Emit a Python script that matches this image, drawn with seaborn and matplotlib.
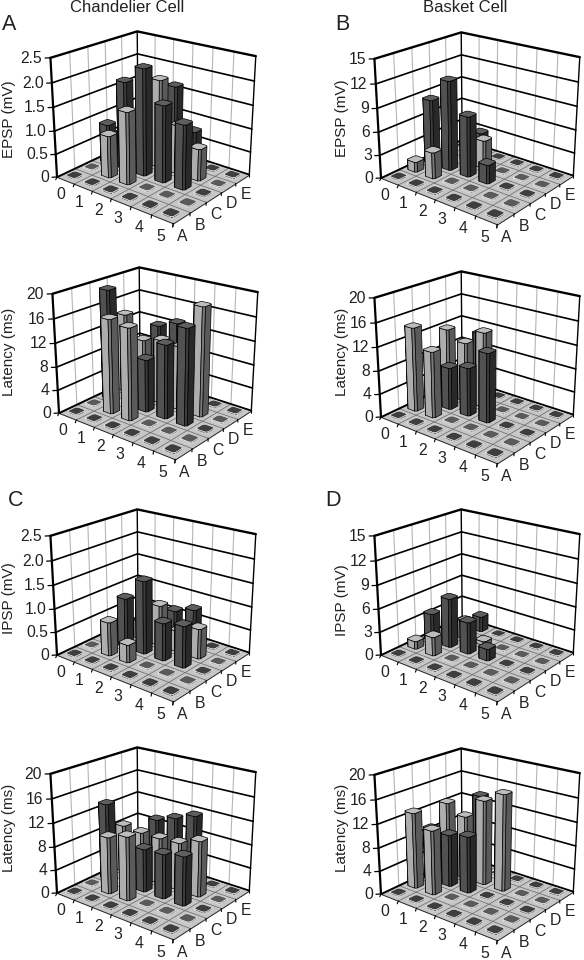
import matplotlib
matplotlib.use("Agg")
import matplotlib.pyplot as plt
import seaborn as sns
from mpl_toolkits.mplot3d import proj3d
from mpl_toolkits.mplot3d.art3d import Poly3DCollection

sns.set_theme(style="white")
plt.rcParams["font.family"] = ["Liberation Sans", "DejaVu Sans"]

W, H = 584, 960
cols = ["0", "1", "2", "3", "4", "5"]
rows = ["A", "B", "C", "D", "E"]

# rows A..E, columns 0..5
epsp_chandelier = [
    [0, 0, 0, 0, 0, 0],
    [0, 0.9, 1.53, 0, 0, 0],
    [0.85, 1.89, 2.27, 1.63, 1.36, 0],
    [0.5, 0.7, 1.9, 1.05, 0.68, 0],
    [0, 0, 1.63, 0.75, 0, 0],
]
latency_chandelier_e = [
    [0, 0, 0, 0, 0, 0],
    [0, 16, 15.5, 0, 0, 0],
    [19, 0, 9, 12.5, 16.1, 0],
    [13.8, 10.2, 11.1, 10.9, 18.4, 0],
    [0, 11.6, 12.9, 0, 0, 0],
]
epsp_basket = [
    [0, 0, 0, 0, 0, 0],
    [1.3, 3.4, 0, 0, 0, 0],
    [8.5, 11.6, 7.8, 2.4, 0, 0],
    [0, 0, 3.7, 0, 0, 0],
    [0, 2.9, 0, 0, 0, 0],
]
latency_basket_e = [
    [0, 0, 0, 0, 0, 0],
    [14.4, 11.3, 0, 0, 0, 0],
    [0, 7.3, 8.3, 11.8, 0, 0],
    [11.9, 10.4, 13.1, 0, 0, 0],
    [0, 10.9, 0, 0, 0, 0],
]
ipsp_chandelier = [
    [0, 0, 0, 0, 0, 0],
    [0, 0.72, 0.38, 0, 0, 0],
    [0, 1.07, 1.56, 0.8, 0.88, 0],
    [0, 0.4, 0.88, 0.45, 0.64, 0],
    [0, 0, 0.6, 0.75, 0, 0],
]
latency_chandelier_i = [
    [0, 0, 0, 0, 0, 0],
    [0, 9.7, 10.8, 0, 0, 0],
    [13.2, 0, 7.4, 7.6, 8.3, 0],
    [8.3, 8, 8, 8.2, 9.5, 0],
    [0, 9.1, 10.3, 11.6, 0, 0],
]
ipsp_basket = [
    [0, 0, 0, 0, 0, 0],
    [1, 2.4, 0, 0, 0, 0],
    [3.6, 6.4, 4.1, 1.5, 0, 0],
    [0, 2.4, 0.5, 0, 0, 0],
    [0, 2, 0, 0, 0, 0],
]
latency_basket_i = [
    [0, 0, 0, 0, 0, 0],
    [13, 11, 0, 0, 0, 0],
    [9.1, 9, 9.7, 0, 0, 0],
    [12.5, 11, 14.6, 16.5, 0, 0],
    [0, 13.5, 0, 0, 0, 0],
]

mv_ticks_small = [0, 0.5, 1.0, 1.5, 2.0, 2.5]
mv_labels_small = ["0", "0.5", "1.0", "1.5", "2.0", "2.5"]
mv_ticks_big = [0, 3, 6, 9, 12, 15]
ms_ticks = [0, 4, 8, 12, 16, 20]

# data, ticks, tick labels, ylabel, px of left floor corner, px of ylabel
panels = [
    (epsp_chandelier, mv_ticks_small, mv_labels_small, "EPSP (mV)", (57, 177), (9, 119)),
    (latency_chandelier_e, ms_ticks, None, "Latency (ms)", (59, 413), (9, 352)),
    (epsp_basket, mv_ticks_big, None, "EPSP (mV)", (381, 178), (342, 118)),
    (latency_basket_e, ms_ticks, None, "Latency (ms)", (381, 417), (342, 352)),
    (ipsp_chandelier, mv_ticks_small, mv_labels_small, "IPSP (mV)", (57, 655), (9, 598)),
    (latency_chandelier_i, ms_ticks, None, "Latency (ms)", (57, 893), (9, 828)),
    (ipsp_basket, mv_ticks_big, None, "IPSP (mV)", (381, 655), (342, 600)),
    (latency_basket_i, ms_ticks, None, "Latency (ms)", (381, 894), (342, 828)),
]

# top, -x-y chamfer, -y, +x-y chamfer, +x
dark_faces = ["#5e5e5e", "#333333", "#515151", "#3c3c3c", "#292929"]
light_faces = ["#bdbdbd", "#7c7c7c", "#adadad", "#7a7a7a", "#5a5a5a"]
bar_w = 0.54
bar_cut = 0.08
tick_fs = 11.3
text_col = "#222222"


def add_column(ax, cx, cy, h, faces, edge, order):
    a = bar_w / 2
    b = a - bar_cut
    ring = [(cx - a, cy + b), (cx - a, cy - b), (cx - b, cy - a), (cx + b, cy - a), (cx + a, cy - b), (cx + a, cy + b)]
    polys = [[(cx - a, cy + b, h), (cx - a, cy - b, h), (cx - b, cy - a, h), (cx + b, cy - a, h),
              (cx + a, cy - b, h), (cx + a, cy + b, h), (cx + b, cy + a, h), (cx - b, cy + a, h)]]
    for p, q in zip(ring[1:-1], ring[2:]):
        polys.append([(p[0], p[1], 0), (q[0], q[1], 0), (q[0], q[1], h), (p[0], p[1], h)])
    ax.add_collection3d(Poly3DCollection(polys, facecolors=faces, edgecolor=edge, linewidth=0.5, zorder=order))


def draw_panel(ax, values, ticks):
    zmax = ticks[-1]
    ax.set_proj_type("persp", focal_length=0.55)
    ax.view_init(elev=21.5, azim=-51)
    ax.set_box_aspect((156, 134, 132), zoom=0.955)
    ax.set_xlim(0, 6, view_margin=0)
    ax.set_ylim(0, 5, view_margin=0)
    ax.set_zlim(0, zmax, view_margin=0)
    ax.set_xticks([])
    ax.set_yticks([])
    ax.set_zticks([])
    ax.set_axis_off()
    ax.computed_zorder = False
    ax.patch.set_alpha(0)

    floor = Poly3DCollection([[(0, 0, 0), (6, 0, 0), (6, 5, 0), (0, 5, 0)]],
                             facecolor="#c6c6c6", edgecolor="#222222", linewidth=0.7, zorder=1)
    ax.add_collection3d(floor)

    for i in range(1, 6):
        ax.plot([i, i], [0, 5], [0, 0], color="#666666", lw=0.5, zorder=2)
        ax.plot([i, i], [5, 5], [0, zmax], color="#b5b5b5", lw=0.8, zorder=2)
    for j in range(1, 5):
        ax.plot([0, 6], [j, j], [0, 0], color="#666666", lw=0.5, zorder=2)
        ax.plot([0, 0], [j, j], [0, zmax], color="#b5b5b5", lw=0.8, zorder=2)
    for z in ticks:
        lw = 1.7 if z == zmax else 1.2
        ax.plot([0, 0, 6], [0, 5, 5], [z, z, z], color="black", lw=lw, zorder=2)
        ax.plot([0, -0.14], [0, -0.14], [z, z], color="black", lw=0.9, zorder=2)
    ax.plot([0, 0], [0, 0], [0, zmax], color="black", lw=1.6, zorder=2)
    ax.plot([0, 0], [5, 5], [0, zmax], color="black", lw=1.0, zorder=2)
    ax.plot([6, 6], [5, 5], [0, zmax], color="black", lw=1.0, zorder=2)

    for i in range(7):
        ax.plot([i, i + 0.14], [0, -0.2], [0, 0], color="black", lw=0.8, zorder=2)
    for j in range(6):
        ax.plot([6, 6.14], [j, j - 0.2], [0, 0], color="black", lw=0.8, zorder=2)

    # back to front so the tall bars cover what stands behind them
    order = 3
    for j in range(4, -1, -1):
        faces = light_faces if j % 2 else dark_faces
        for i in range(6):
            v = values[j][i]
            if v == 0:
                v = zmax * 0.012
                use = ["#5a5a5a" if j % 2 else "#3e3e3e"] + faces[1:]
                edge = "#e0e0e0"
            else:
                use = faces
                edge = "black"
            add_column(ax, i + 0.5, j + 0.5, v, use, edge, order)
            order += 1


def project(ax, x, y, z):
    px, py, _ = proj3d.proj_transform(x, y, z, ax.get_proj())
    return ax.transData.transform((px, py))


fig = plt.figure(figsize=(W / 100, H / 100), dpi=100, facecolor="white")
axes = []
for values, ticks, labels, ylabel, corner, lab_xy in panels:
    ax = fig.add_axes([0.1, 0.1, 320 / W, 240 / H], projection="3d")
    draw_panel(ax, values, ticks)
    axes.append((ax, corner, ticks, labels))
    fig.text(lab_xy[0] / W, 1 - lab_xy[1] / H, ylabel, rotation=90, ha="center", va="center",
             fontsize=11, color=text_col)

# move every panel so its left floor corner sits on the reference pixel
fig.canvas.draw()
for ax, corner, ticks, labels in axes:
    dx, dy = project(ax, 0, 0, 0)
    pos = ax.get_position()
    ax.set_position([pos.x0 + (corner[0] - dx) / W, pos.y0 + ((H - corner[1]) - dy) / H, pos.width, pos.height])
fig.canvas.draw()

# tick labels go on after that, at the projected spots
for ax, corner, ticks, labels in axes:
    for z, t in zip(ticks, labels or [str(k) for k in ticks]):
        px, py = project(ax, -0.22, -0.22, z)
        fig.text(px / W, py / H, t, ha="right", va="center", fontsize=tick_fs, color=text_col)
    for i, c in enumerate(cols):
        px, py = project(ax, i + 1.22, -0.95, 0)
        fig.text(px / W, py / H, c, ha="center", va="center", fontsize=tick_fs, color=text_col)
    for j, r in enumerate(rows):
        px, py = project(ax, 6.82, j - 0.52, 0)
        fig.text(px / W, py / H, r, ha="center", va="center", fontsize=tick_fs, color=text_col)

fig.text(127 / W, 1 - 7.5 / H, "Chandelier Cell", ha="center", va="center", fontsize=12, color=text_col)
fig.text(465 / W, 1 - 7.5 / H, "Basket Cell", ha="center", va="center", fontsize=12, color=text_col)
for s, x, y in [("A", 9, 25), ("B", 342, 25), ("C", 16, 500), ("D", 333, 500)]:
    fig.text(x / W, 1 - y / H, s, ha="center", va="center", fontsize=15.5, color=text_col)

fig.savefig("out.png", dpi=100)
